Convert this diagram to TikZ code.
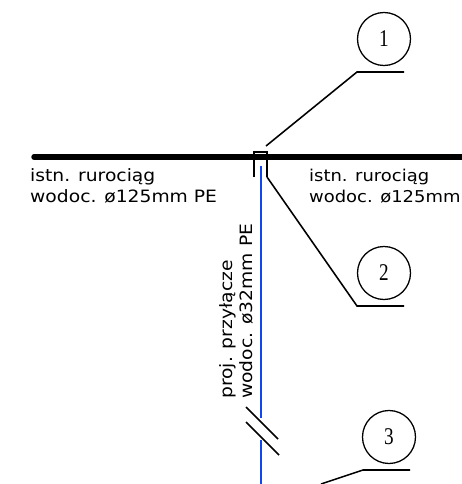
\documentclass[tikz,border=0pt]{standalone}
\usepackage{fontspec}
\setmainfont[FakeStretch=1.1]{DejaVu Sans}
\newfontfamily\numfont[FakeStretch=0.8]{Liberation Serif}
\definecolor{pipeblue}{RGB}{20,70,240}
\tikzset{
	pipelabel/.style={inner sep=0pt, align=left, anchor=south west, font=\fontsize{17}{20.5}\selectfont},
	numcircle/.style={draw, circle, line width=0.45mm, minimum size=53pt, inner sep=0pt, font=\numfont\fontsize{24}{24}\selectfont},
	leader/.style={black, line width=0.55mm},
}
\begin{document}
\begin{tikzpicture}[x=1pt,y=-1pt]
	\useasboundingbox (0,0) rectangle (461,484);

	\draw[draw=pipeblue, line width=0.75mm] (261,166) -- (261,418) (261,440) -- (261,484);
	\draw[black, line width=1.9mm, line cap=round] (34,157) -- (470,157);

	\coordinate (sleevetop) at (266,146);
	\coordinate (sleevebot) at (267,177);
	\draw[black, line width=0.7mm] (254,177) -- (254,152) -- (267,152) -- (sleevebot);

	\draw[leader] (246,407) -- (278,439) (246,422) -- (279,455);

	\node[numcircle] (num1) at (384,39) {1};
	\node[numcircle] (num2) at (384,273) {2};
	\node[numcircle] (num3) at (389,437) {3};

	\coordinate (knee1) at (357,72);
	\coordinate (end1) at (404,72);
	\coordinate (knee2) at (357,306);
	\coordinate (end2) at (404,306);
	\coordinate (knee3) at (363,470);
	\coordinate (end3) at (410,470);
	\coordinate (pipe3) at (321,484);
	\draw[leader] (sleevetop) -- (knee1) -- (end1);
	\draw[leader] (sleevebot) -- (knee2) -- (end2);
	\draw[leader] (pipe3) -- (knee3) -- (end3);

	\node[pipelabel] (left) at (30,203) {istn. rurociąg\\wodoc. ø125mm PE};
	\node[pipelabel, font=\fontsize{16.3}{20.5}\selectfont] (right) at (309,203) {istn. rurociąg\\wodoc. ø125mm};
	\node[pipelabel, rotate=90] (branch) at (253.5,399) {proj. przyłącze\\wodoc. ø32mm PE};
\end{tikzpicture}
\end{document}
